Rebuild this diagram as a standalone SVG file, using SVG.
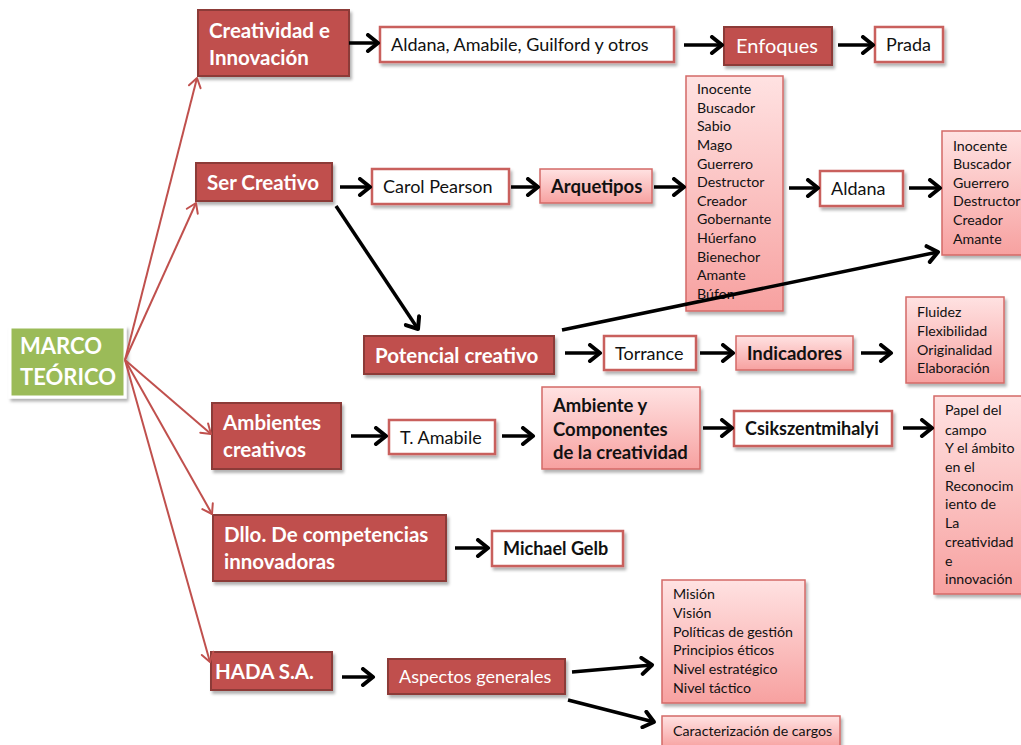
<svg xmlns="http://www.w3.org/2000/svg" width="1021" height="745" viewBox="0 0 1021 745">
<defs>
<style>
text{font-family:Lato,"Open Sans","Liberation Sans",sans-serif;}
.dark{fill:#C0504D;stroke:#8C3A37;stroke-width:2;filter:url(#sh);}
.white{fill:#fff;stroke:#C9605D;stroke-width:2.5;filter:url(#sh);}
.pink{fill:url(#pg);stroke:#D46A67;stroke-width:1.5;filter:url(#sh);}
.tw{fill:#fff;font-size:20.5px;font-weight:bold;}
.tn{fill:#111;font-size:18px;}
.tb{fill:#111;font-size:18.5px;font-weight:bold;}
.tl{fill:#111;font-size:14.2px;}
.blk{stroke:#000;stroke-width:3.5;fill:none;marker-end:url(#ab);}
.red{stroke:#C0504D;stroke-width:2;fill:none;marker-end:url(#ar);}
</style>
<linearGradient id="pg" x1="0" y1="0" x2="0" y2="1">
<stop offset="0" stop-color="#FFE2E2"/>
<stop offset="1" stop-color="#F7A1A0"/>
</linearGradient>
<filter id="sh" x="-10%" y="-10%" width="130%" height="130%">
<feDropShadow dx="2" dy="3" stdDeviation="1.8" flood-color="#000" flood-opacity="0.3"/>
</filter>
<marker id="ab" viewBox="0 0 20 20" refX="17" refY="10" markerWidth="20" markerHeight="20" markerUnits="userSpaceOnUse" orient="auto">
<path d="M7,2 L17,10 L7,18" fill="none" stroke="#000" stroke-width="4" stroke-linecap="round" stroke-linejoin="round"/>
</marker>
<marker id="ar" viewBox="0 0 16 16" refX="14" refY="8" markerWidth="16" markerHeight="16" markerUnits="userSpaceOnUse" orient="auto">
<path d="M5,2 L14,8 L5,14" fill="none" stroke="#C0504D" stroke-width="2" stroke-linecap="round" stroke-linejoin="round"/>
</marker>
</defs>
<rect width="1021" height="745" fill="#fff"/>

<g id="marco">
<rect x="10" y="327" width="115" height="70" fill="#9BBB59" stroke="#fff" stroke-width="3" filter="url(#sh)"/>
<text x="20" y="354" fill="#fff" font-size="22" font-weight="bold">MARCO</text>
<text x="20" y="385" fill="#fff" font-size="22" font-weight="bold">TEÓRICO</text>
</g>

<g id="creatividad">
<rect class="dark" x="198" y="10" width="151" height="66"/>
<text class="tw" x="209" y="38">Creatividad e</text>
<text class="tw" x="209" y="65">Innovación</text>
</g>
<g id="aldana-amabile">
<rect class="white" x="380" y="27" width="294" height="35"/>
<text class="tn" x="391" y="51">Aldana, Amabile, Guilford y otros</text>
</g>
<g id="enfoques">
<rect class="dark" x="724" y="27" width="108" height="38"/>
<text x="736" y="53" fill="#fff" font-size="20">Enfoques</text>
</g>
<g id="prada">
<rect class="white" x="875" y="27" width="68" height="35"/>
<text class="tn" x="886" y="51">Prada</text>
</g>

<g id="arquetipos-lista">
<rect class="pink" x="686" y="76" width="97" height="235"/>
<text class="tl" x="697" y="94">Inocente</text>
<text class="tl" x="697" y="113">Buscador</text>
<text class="tl" x="697" y="131">Sabio</text>
<text class="tl" x="697" y="150">Mago</text>
<text class="tl" x="697" y="169">Guerrero</text>
<text class="tl" x="697" y="187">Destructor</text>
<text class="tl" x="697" y="206">Creador</text>
<text class="tl" x="697" y="224">Gobernante</text>
<text class="tl" x="697" y="243">Húerfano</text>
<text class="tl" x="697" y="262">Bienechor</text>
<text class="tl" x="697" y="280">Amante</text>
<text class="tl" x="697" y="299">Búfon</text>
</g>

<g id="ser-creativo">
<rect class="dark" x="196" y="163" width="136" height="38"/>
<text class="tw" x="207" y="190">Ser Creativo</text>
</g>
<g id="carol-pearson">
<rect class="white" x="372" y="169" width="137" height="35"/>
<text class="tn" x="383" y="193">Carol Pearson</text>
</g>
<g id="arquetipos">
<rect class="pink" x="540" y="169" width="112" height="34"/>
<text class="tb" x="551" y="193">Arquetipos</text>
</g>
<g id="aldana">
<rect class="white" x="820" y="171" width="83" height="35"/>
<text class="tn" x="831" y="195">Aldana</text>
</g>
<g id="aldana-lista">
<rect class="pink" x="942" y="131" width="84" height="124"/>
<text class="tl" x="953" y="151">Inocente</text>
<text class="tl" x="953" y="169">Buscador</text>
<text class="tl" x="953" y="188">Guerrero</text>
<text class="tl" x="953" y="206">Destructor</text>
<text class="tl" x="953" y="225">Creador</text>
<text class="tl" x="953" y="244">Amante</text>
</g>

<g id="potencial">
<rect class="dark" x="364" y="336" width="190" height="38"/>
<text class="tw" x="375" y="363">Potencial creativo</text>
</g>
<g id="torrance">
<rect class="white" x="604" y="336" width="92" height="34"/>
<text class="tn" x="615" y="360">Torrance</text>
</g>
<g id="indicadores">
<rect class="pink" x="736" y="336" width="117" height="34"/>
<text class="tb" x="747" y="360">Indicadores</text>
</g>
<g id="indicadores-lista">
<rect class="pink" x="906" y="297" width="98" height="86"/>
<text class="tl" x="917" y="317">Fluidez</text>
<text class="tl" x="917" y="336">Flexibilidad</text>
<text class="tl" x="917" y="355">Originalidad</text>
<text class="tl" x="917" y="373">Elaboración</text>
</g>

<g id="ambientes">
<rect class="dark" x="212" y="403" width="129" height="66"/>
<text class="tw" x="223" y="430">Ambientes</text>
<text class="tw" x="223" y="457">creativos</text>
</g>
<g id="t-amabile">
<rect class="white" x="389" y="420" width="106" height="34"/>
<text class="tn" x="400" y="444">T. Amabile</text>
</g>
<g id="ambiente-componentes">
<rect class="pink" x="542" y="387" width="158" height="82"/>
<text class="tb" x="553" y="412">Ambiente y</text>
<text class="tb" x="553" y="436">Componentes</text>
<text class="tb" x="553" y="459">de la creatividad</text>
</g>
<g id="csikszentmihalyi">
<rect class="white" x="734" y="411" width="158" height="35"/>
<text class="tn" x="745" y="435" font-weight="bold">Csikszentmihalyi</text>
</g>
<g id="papel-lista">
<rect class="pink" x="934" y="396" width="92" height="198"/>
<text class="tl" x="945" y="415">Papel del</text>
<text class="tl" x="945" y="435">campo</text>
<text class="tl" x="945" y="453">Y el ámbito</text>
<text class="tl" x="945" y="472">en el</text>
<text class="tl" x="945" y="491">Reconocim</text>
<text class="tl" x="945" y="509">iento de</text>
<text class="tl" x="945" y="528">La</text>
<text class="tl" x="945" y="547">creatividad</text>
<text class="tl" x="945" y="566">e</text>
<text class="tl" x="945" y="584">innovación</text>
</g>

<g id="dllo">
<rect class="dark" x="213" y="515" width="233" height="66"/>
<text class="tw" x="224" y="542">Dllo. De competencias</text>
<text class="tw" x="224" y="569">innovadoras</text>
</g>
<g id="michael-gelb">
<rect class="white" x="492" y="531" width="131" height="35"/>
<text class="tn" x="503" y="555" font-weight="bold">Michael Gelb</text>
</g>

<g id="hada">
<rect class="dark" x="211" y="652" width="121" height="38"/>
<text class="tw" x="215" y="679">HADA S.A.</text>
</g>
<g id="aspectos">
<rect class="dark" x="388" y="659" width="177" height="35"/>
<text x="399" y="683" fill="#fff" font-size="18">Aspectos generales</text>
</g>
<g id="mision-lista">
<rect class="pink" x="662" y="580" width="143" height="123"/>
<text class="tl" x="673" y="599">Misión</text>
<text class="tl" x="673" y="618">Visión</text>
<text class="tl" x="673" y="637">Políticas de gestión</text>
<text class="tl" x="673" y="655">Principios éticos</text>
<text class="tl" x="673" y="674">Nivel estratégico</text>
<text class="tl" x="673" y="693">Nivel táctico</text>
</g>
<g id="caracterizacion">
<rect class="pink" x="662" y="716" width="178" height="32"/>
<text class="tl" x="673" y="736">Caracterización de cargos</text>
</g>

<g id="connectors">
<line class="red" x1="125" y1="360" x2="197" y2="78"/>
<line class="red" x1="125" y1="360" x2="196" y2="203"/>
<line class="red" x1="125" y1="360" x2="211" y2="434"/>
<line class="red" x1="125" y1="360" x2="212" y2="514"/>
<line class="red" x1="125" y1="360" x2="210" y2="662"/>
<line class="blk" x1="349" y1="43" x2="378" y2="43"/>
<line class="blk" x1="684" y1="45" x2="722" y2="45"/>
<line class="blk" x1="838" y1="45" x2="873" y2="45"/>
<line class="blk" x1="340" y1="187" x2="370" y2="187"/>
<line class="blk" x1="511" y1="187" x2="538" y2="187"/>
<line class="blk" x1="654" y1="187" x2="684" y2="187"/>
<line class="blk" x1="789" y1="188" x2="818" y2="188"/>
<line class="blk" x1="909" y1="188" x2="940" y2="188"/>
<line class="blk" x1="336" y1="206" x2="418" y2="329"/>
<line class="blk" x1="562" y1="330" x2="938" y2="252"/>
<line class="blk" x1="565" y1="353" x2="600" y2="353"/>
<line class="blk" x1="700" y1="353" x2="733" y2="353"/>
<line class="blk" x1="861" y1="353" x2="891" y2="353"/>
<line class="blk" x1="351" y1="436" x2="386" y2="436"/>
<line class="blk" x1="502" y1="436" x2="533" y2="436"/>
<line class="blk" x1="703" y1="428" x2="732" y2="428"/>
<line class="blk" x1="903" y1="428" x2="932" y2="428"/>
<line class="blk" x1="455" y1="548" x2="488" y2="548"/>
<line class="blk" x1="342" y1="677" x2="373" y2="677"/>
<line class="blk" x1="572" y1="672" x2="652" y2="665"/>
<line class="blk" x1="568" y1="700" x2="654" y2="722"/>
</g>
</svg>
